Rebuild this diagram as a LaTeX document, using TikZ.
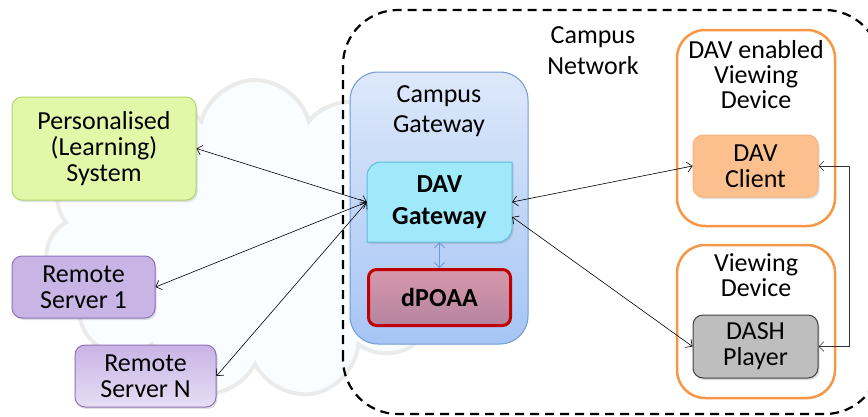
\documentclass[tikz,border=0pt]{standalone}
\usepackage{fontspec}
\setmainfont{Carlito}
\usepackage{tikz}
\usetikzlibrary{arrows.meta,shapes.symbols,shadows}
\definecolor{plsfill}{HTML}{E0F8A8}
\definecolor{plsline}{HTML}{B3D66B}
\definecolor{rsfill}{HTML}{C9B4E6}
\definecolor{rsline}{HTML}{8E72B8}
\definecolor{cgwtop}{HTML}{DDE8FA}
\definecolor{cgwbot}{HTML}{A6C5F5}
\definecolor{cgwline}{HTML}{6F9AD3}
\definecolor{gwfill}{HTML}{9FE9FB}
\definecolor{gwline}{HTML}{5DBBD9}
\definecolor{patop}{HTML}{D698AB}
\definecolor{pabot}{HTML}{B584A0}
\definecolor{paline}{HTML}{C00000}
\definecolor{devline}{HTML}{F79646}
\definecolor{clfill}{HTML}{FBC08D}
\definecolor{dashfill}{HTML}{BEBEBE}
\definecolor{dashline}{HTML}{404040}

\begin{document}
\begin{tikzpicture}[x=1pt, y=-1pt, >={Straight Barb[length=5pt,width=10pt]},%
        every node/.style={align=center, inner sep=0pt, font=\fontsize{26}{26}\selectfont},
        box/.style={draw, rounded corners=10pt, line width=1pt},
        shade/.style={drop shadow={opacity=.25, shadow xshift=1.5pt, shadow yshift=-2pt}},
        device/.style={draw=devline, line width=2.5pt, rounded corners=28pt, fill=white, minimum width=158},
        conn/.style={<->, line width=.6pt}]
    \useasboundingbox (0,0) rectangle (868,416);
    \node[cloud, cloud puffs=11, aspect=1.3, minimum width=420, minimum height=320, draw=black!8, line width=4pt, fill=cyan!2] (cloud) at (255,240) {};
    \draw[line width=2.2pt, dash pattern=on 9pt off 6pt, rounded corners=55pt] (343,414) -- (343,10) -- (880,10) -- (880,414) -- cycle;

    \node[box, shade, draw=plsline, fill=plsfill, minimum width=184, minimum height=103] (pls) at (104,148.5) {Personalised\\(Learning)\\System};
    \node[box, shade, draw=rsline, fill=rsfill, minimum width=143, minimum height=62] (rs1) at (83.5,287) {Remote\\Server 1};
    \node[box, shade, draw=rsline, top color=rsfill, middle color=rsfill, bottom color=rsfill!45, minimum width=141, minimum height=62] (rsn) at (145.5,376) {Remote\\Server N};

    \node[box, draw=cgwline, top color=cgwtop, middle color=cgwtop, bottom color=cgwbot, rounded corners=28pt, minimum width=178, minimum height=272] (cgw) at (439,208) {};
    \node[font=\fontsize{26}{30}\selectfont] (cgwlbl) at (439,111) {Campus\\Gateway};
    \draw[shade, fill=gwfill, draw=gwline, line width=1pt] (367,242) -- (367,176) .. controls (367,168.3) and (373.3,162) .. (381,162) -- (512,162) -- (512,228) .. controls (512,235.7) and (505.7,242) .. (498,242) -- cycle;
    \node[font=\bfseries\fontsize{26}{32}\selectfont, minimum width=145, minimum height=80] (davgw) at (439.5,202) {DAV\\Gateway};
    \node[box, draw=paline, line width=3pt, top color=patop, bottom color=pabot, rounded corners=8pt, font=\bfseries\fontsize{26}{30}\selectfont, minimum width=142, minimum height=56] (dpoaa) at (439.5,297.5) {dPOAA};
    \draw[<->, draw=cgwline, line width=.8pt] (davgw.south) -- (dpoaa.north);

    \node[font=\fontsize{26}{31}\selectfont] (net) at (593,50.5) {Campus\\Network};

    \node[device, minimum height=196] (davdev) at (756,128) {};
    \node[font=\fontsize{26}{25}\selectfont] (davdevlbl) at (756,75) {DAV enabled\\Viewing\\Device};
    \node[box, shade, draw=devline!70, fill=clfill, minimum width=125, minimum height=62] (davcl) at (755.5,166) {DAV\\Client};

    \node[device, minimum height=153] (viewdev) at (756,321.5) {};
    \node[font=\fontsize{26}{25}\selectfont] (viewdevlbl) at (756,275.5) {Viewing\\Device};
    \node[box, shade, draw=dashline, fill=dashfill, minimum width=125, minimum height=63] (dash) at (755.5,346.5) {DASH\\Player};

    \draw[conn] (pls.east) -- (davgw.west);
    \draw[conn] (rs1.east) -- (davgw.west);
    \draw[conn] (rsn.east) -- (davgw.west);
    \draw[conn] (davgw.east) -- (davcl.west);
    \draw[conn] ([yshift=-15pt]davgw.east) -- (dash.west);
    \draw[conn, black!80] (davcl.east) -- ++(31,0) |- (dash.east);
\end{tikzpicture}
\end{document}
